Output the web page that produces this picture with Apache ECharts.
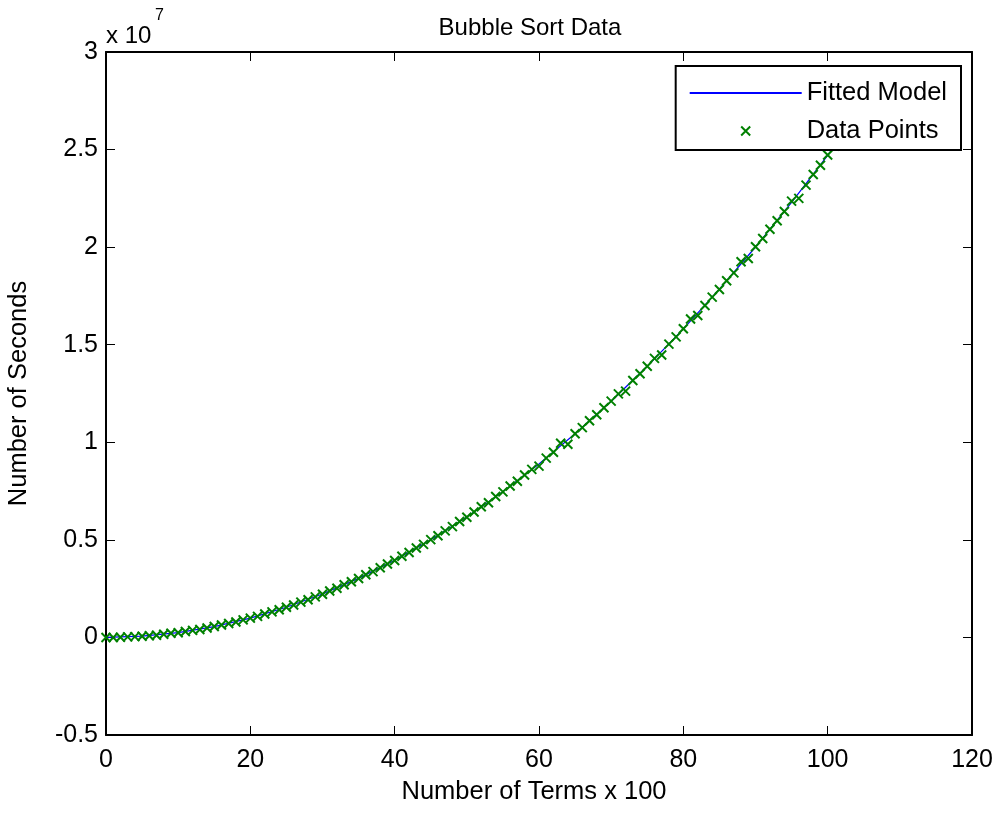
<!DOCTYPE html>
<html>
<head>
<meta charset="utf-8">
<script src="https://cdn.jsdelivr.net/npm/echarts@6/dist/echarts.min.js"></script>
<style>
html,body{margin:0;padding:0;background:#fff;}
#chart{width:1002px;height:813px;}
</style>
</head>
<body>
<div id="chart"></div>
<script>
// Data (y in units of 1e7 seconds)
var termsX = [0,1,2,3,4,5,6,7,8,9,10,11,12,13,14,15,16,17,18,19,20,21,22,23,24,25,26,27,28,29,30,31,32,33,34,35,36,37,38,39,40,41,42,43,44,45,46,47,48,49,50,51,52,53,54,55,56,57,58,59,60,61,62,63,64,65,66,67,68,69,70,71,72,73,74,75,76,77,78,79,80,81,82,83,84,85,86,87,88,89,90,91,92,93,94,95,96,97,98,99,100,101,102,103,104];
var secondsY = [0.000,0.000,0.001,0.003,0.004,0.006,0.009,0.011,0.016,0.021,0.024,0.030,0.036,0.041,0.048,0.056,0.064,0.071,0.079,0.090,0.099,0.108,0.120,0.131,0.142,0.155,0.166,0.181,0.193,0.208,0.221,0.238,0.252,0.270,0.285,0.302,0.321,0.337,0.357,0.376,0.394,0.416,0.435,0.458,0.477,0.501,0.521,0.546,0.568,0.594,0.616,0.643,0.670,0.690,0.722,0.746,0.776,0.800,0.832,0.861,0.878,0.919,0.949,0.995,0.990,1.044,1.075,1.110,1.141,1.177,1.211,1.248,1.262,1.317,1.351,1.390,1.430,1.447,1.503,1.540,1.582,1.632,1.650,1.701,1.744,1.783,1.828,1.868,1.925,1.942,2.002,2.044,2.092,2.135,2.183,2.236,2.250,2.318,2.372,2.420,2.472,2.518,2.570,2.621,2.672];
var fitX = [0,5,10,15,20,25,30,35,40,45,50,55,60,65,70,75,80,85,90,95,100,105];
var fitY = [0,0.0062,0.0247,0.0556,0.0988,0.1544,0.2223,0.3026,0.3952,0.5002,0.6175,0.7472,0.8892,1.0436,1.2103,1.3894,1.5808,1.7846,2.0007,2.2292,2.4700,2.7232];
var xTicks = [0,20,40,60,80,100,120];
var yTicks = [-0.5,0,0.5,1,1.5,2,2.5,3];

var FONT = "'Liberation Sans', Arial, sans-serif";
var chart = echarts.init(document.getElementById('chart'), null, {renderer:'canvas'});

function zip(a,b){var r=[];for(var i=0;i<a.length;i++)r.push([a[i],b[i]]);return r;}

var axisCommon = {
  axisLine:{show:true,onZero:false,lineStyle:{color:'#000',width:2}},
  axisTick:{show:true,inside:true,length:9,lineStyle:{color:'#000',width:1}},
  splitLine:{show:false}
};

var option = {
  backgroundColor:'#fff',
  animation:false,
  textStyle:{fontFamily:FONT},
  title:{
    text:'Bubble Sort Data',
    left:525, top:11, textAlign:'center',
    textStyle:{fontFamily:FONT,fontSize:24,fontWeight:'normal',color:'#000'}
  },
  grid:{left:106,right:30,top:52,bottom:78,containLabel:false,outerBoundsMode:'none'},
  legend:{
    orient:'vertical',
    right:41, top:66,
    backgroundColor:'#fff',
    borderColor:'#000', borderWidth:2, borderRadius:0,
    padding:[12,14,4,13],
    itemWidth:112, itemHeight:9, itemGap:8,
    textStyle:{fontFamily:FONT,fontSize:25.5,color:'#000',lineHeight:30},
    data:[
      {name:'Fitted Model',itemStyle:{color:'transparent',borderWidth:0,opacity:0}},
      {name:'Data Points'}
    ]
  },
  xAxis:[
    Object.assign({
      type:'value',position:'bottom',min:0,max:120,interval:20,
      name:'Number of Terms x 100',nameLocation:'middle',nameGap:44,
      nameTextStyle:{fontFamily:FONT,fontSize:25.5,color:'#000',padding:[0,10,0,0]},
      axisLabel:{show:true,margin:13,fontFamily:FONT,fontSize:25,color:'#000'}
    },axisCommon),
    Object.assign({
      type:'value',position:'top',min:0,max:120,interval:20,
      axisLabel:{show:false}
    },axisCommon)
  ],
  yAxis:[
    Object.assign({
      type:'value',position:'left',min:-0.5,max:3,interval:0.5,
      name:'Number of Seconds',nameLocation:'middle',nameGap:74,
      nameTextStyle:{fontFamily:FONT,fontSize:25.5,color:'#000'},
      axisLabel:{show:true,margin:8,fontFamily:FONT,fontSize:25,color:'#000'}
    },axisCommon),
    Object.assign({
      type:'value',position:'right',min:-0.5,max:3,interval:0.5,
      axisLabel:{show:false}
    },axisCommon)
  ],
  graphic:[
    {type:'text',left:106,top:24,style:{text:'x 10',font:'24px '+FONT,fill:'#000'}},
    {type:'text',left:155,top:8,style:{text:'7',font:'16px '+FONT,fill:'#000'}}
  ],
  series:[
    {
      name:'Fitted Model',type:'line',xAxisIndex:0,yAxisIndex:0,
      data:zip(fitX,fitY),symbol:'none',showSymbol:false,smooth:false,
      lineStyle:{color:'#0000ff',width:1.2},itemStyle:{color:'#0000ff'},
      clip:true,z:2
    },
    {
      name:'Data Points',type:'scatter',xAxisIndex:0,yAxisIndex:0,
      data:zip(termsX,secondsY),
      symbol:'path://M0,0L10,10M10,0L0,10',symbolSize:9,
      itemStyle:{color:'none',borderColor:'#008000',borderWidth:2,opacity:1},
      clip:true,z:3
    }
  ]
};
chart.setOption(option);
</script>
</body>
</html>
